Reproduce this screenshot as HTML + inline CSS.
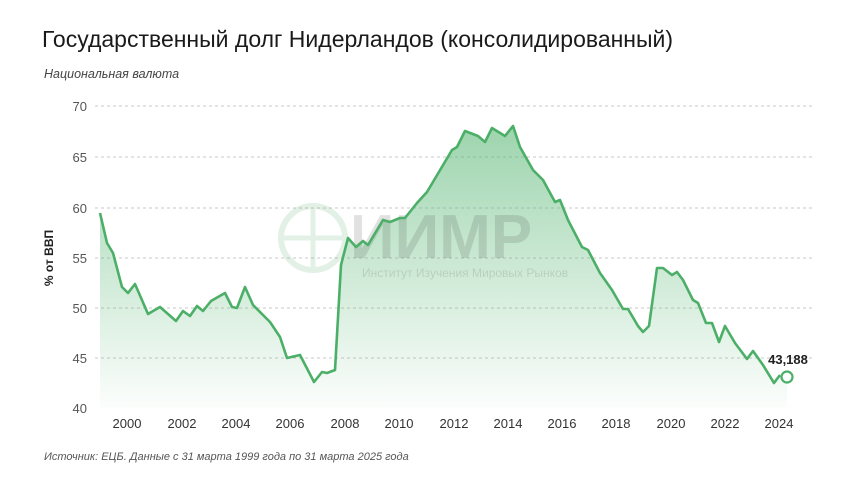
<!DOCTYPE html><html><head><meta charset="utf-8"><style>
body{margin:0;background:#fff;width:860px;height:484px;overflow:hidden;font-family:"Liberation Sans",sans-serif}
</style></head><body>
<svg width="860" height="484" xmlns="http://www.w3.org/2000/svg" font-family="Liberation Sans, sans-serif">
<defs><linearGradient id="g" gradientUnits="userSpaceOnUse" x1="0" y1="126" x2="0" y2="408">
<stop offset="0" stop-color="#5cb877" stop-opacity="0.6"/><stop offset="1" stop-color="#5cb877" stop-opacity="0.02"/></linearGradient></defs>
<text x="42" y="47" font-size="23" fill="#1a1a1a">Государственный долг Нидерландов (консолидированный)</text>
<text x="44" y="78" font-size="12.5" font-style="italic" fill="#444">Национальная валюта</text>
<g stroke="#c8c8c8" stroke-dasharray="3,3" stroke-width="1">
<line x1="95" x2="815" y1="106" y2="106"/><line x1="95" x2="815" y1="157" y2="157"/><line x1="95" x2="815" y1="208" y2="208"/><line x1="95" x2="815" y1="258" y2="258"/><line x1="95" x2="815" y1="308" y2="308"/><line x1="95" x2="815" y1="358" y2="358"/></g>
<g font-size="13" fill="#555" text-anchor="end">
<text x="87" y="111">70</text><text x="87" y="162">65</text><text x="87" y="213">60</text><text x="87" y="263">55</text><text x="87" y="313">50</text><text x="87" y="363">45</text><text x="87" y="413">40</text></g>
<text transform="translate(53,258) rotate(-90)" font-size="12" font-weight="bold" fill="#222" text-anchor="middle">% от ВВП</text>
<g font-size="13" fill="#333" text-anchor="middle">
<text x="127" y="428">2000</text><text x="182" y="428">2002</text><text x="236" y="428">2004</text><text x="290" y="428">2006</text><text x="345" y="428">2008</text><text x="399" y="428">2010</text><text x="454" y="428">2012</text><text x="508" y="428">2014</text><text x="562" y="428">2016</text><text x="616" y="428">2018</text><text x="671" y="428">2020</text><text x="725" y="428">2022</text><text x="779" y="428">2024</text></g>
<path fill="url(#g)" d="M100,213 L107,243 113,253 122,287 128,293 135,284 148,314 160,307 176,321 183,311 190,316 197,306 203,311 211,301 225,293 232,307 237,308 245,287 253,305 270,322 280,337 287,358 300,355 314,382 322,372 327,373 335,370 341,265 348,238 356,247 363,241 368,245 383,220 390,222 400,218 405,218 417,203 427,192 452,150 457,147 465,131 478,136 485,142 492,128 505,136 513,126 520,147 533,170 543,180 555,202 560,200 568,220 582,247 588,250 600,273 612,290 623,309 628,309 638,326 643,332 649,326 657,268 663,268 672,275 677,272 683,280 693,300 698,303 706,323 712,323 719,342 725,326 735,343 747,359 753,351 763,365 774,383 780,375 787,377 L787,408 L100,408 Z"/>
<g opacity="0.14">
<circle cx="313" cy="238" r="32" fill="none" stroke="#3a9a55" stroke-width="6"/>
<line x1="281" y1="238" x2="345" y2="238" stroke="#3a9a55" stroke-width="5"/>
<line x1="313" y1="206" x2="313" y2="270" stroke="#3a9a55" stroke-width="5"/>
<text x="350" y="258" font-size="62" font-weight="bold" fill="#333">ИИМР</text>
<text x="362" y="277" font-size="12" fill="#333">Институт Изучения Мировых Рынков</text></g>
<polyline fill="none" stroke="#4caf68" stroke-width="2.6" stroke-linejoin="round" points="100,213 107,243 113,253 122,287 128,293 135,284 148,314 160,307 176,321 183,311 190,316 197,306 203,311 211,301 225,293 232,307 237,308 245,287 253,305 270,322 280,337 287,358 300,355 314,382 322,372 327,373 335,370 341,265 348,238 356,247 363,241 368,245 383,220 390,222 400,218 405,218 417,203 427,192 452,150 457,147 465,131 478,136 485,142 492,128 505,136 513,126 520,147 533,170 543,180 555,202 560,200 568,220 582,247 588,250 600,273 612,290 623,309 628,309 638,326 643,332 649,326 657,268 663,268 672,275 677,272 683,280 693,300 698,303 706,323 712,323 719,342 725,326 735,343 747,359 753,351 763,365 774,383 780,375"/>
<circle cx="787" cy="377" r="5.5" fill="#fff" stroke="#4caf68" stroke-width="2.2"/>
<text x="788" y="364" font-size="13" font-weight="bold" fill="#222" text-anchor="middle">43,188</text>
<text x="44" y="460" font-size="11" font-style="italic" fill="#555">Источник: ЕЦБ. Данные с 31 марта 1999 года по 31 марта 2025 года</text>
</svg></body></html>
